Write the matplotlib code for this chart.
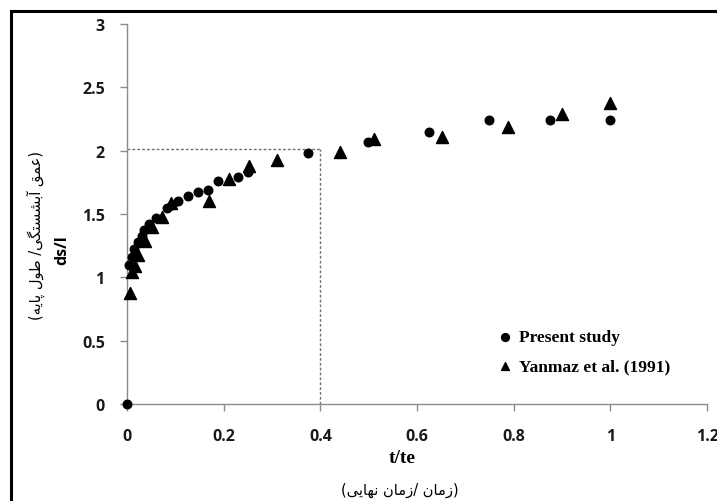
import matplotlib
matplotlib.use("Agg")
import matplotlib.pyplot as plt
from matplotlib.lines import Line2D

# Present study
present_t = [0.0, 0.005, 0.01, 0.015, 0.022, 0.03, 0.035, 0.045, 0.06, 0.082, 0.093,
             0.105, 0.126, 0.147, 0.168, 0.189, 0.23, 0.25, 0.375, 0.499, 0.625,
             0.749, 0.875, 1.0]
present_ds = [0.0, 1.10, 1.16, 1.22, 1.28, 1.33, 1.37, 1.42, 1.47, 1.55, 1.57,
              1.60, 1.64, 1.67, 1.69, 1.76, 1.79, 1.83, 1.98, 2.07, 2.15,
              2.24, 2.24, 2.24]

# Yanmaz et al. (1991)
yanmaz_t = [0.006, 0.01, 0.016, 0.023, 0.037, 0.052, 0.072, 0.09, 0.17, 0.21,
            0.252, 0.31, 0.44, 0.511, 0.651, 0.789, 0.9, 1.0]
yanmaz_ds = [0.88, 1.04, 1.09, 1.18, 1.29, 1.40, 1.48, 1.59, 1.60, 1.78,
             1.88, 1.93, 1.99, 2.09, 2.11, 2.19, 2.29, 2.38]

# reference point marked with dashed guides
ref_t = 0.4
ref_ds = 2.01

x_ticks = [0, 0.2, 0.4, 0.6, 0.8, 1, 1.2]
y_ticks = [0, 0.5, 1, 1.5, 2, 2.5, 3]

x_title = "t/te"
y_title = "ds/l"
x_title_fa = "(زمان /زمان نهایی)"
y_title_fa = "(عمق آبشستگی/ طول پایه)"

# --- minimal Persian shaping (contextual forms + right-to-left order) ---
FORMS = {  # isolated, final, initial, medial
    'ا': ('\uFE8D', '\uFE8E', None, None),
    'آ': ('\uFE81', '\uFE82', None, None),
    'ب': ('\uFE8F', '\uFE90', '\uFE91', '\uFE92'),
    'پ': ('\uFB56', '\uFB57', '\uFB58', '\uFB59'),
    'ت': ('\uFE95', '\uFE96', '\uFE97', '\uFE98'),
    'ز': ('\uFEAF', '\uFEB0', None, None),
    'س': ('\uFEB1', '\uFEB2', '\uFEB3', '\uFEB4'),
    'ش': ('\uFEB5', '\uFEB6', '\uFEB7', '\uFEB8'),
    'ط': ('\uFEC1', '\uFEC2', '\uFEC3', '\uFEC4'),
    'ع': ('\uFEC9', '\uFECA', '\uFECB', '\uFECC'),
    'ق': ('\uFED5', '\uFED6', '\uFED7', '\uFED8'),
    'گ': ('\uFB92', '\uFB93', '\uFB94', '\uFB95'),
    'ل': ('\uFEDD', '\uFEDE', '\uFEDF', '\uFEE0'),
    'م': ('\uFEE1', '\uFEE2', '\uFEE3', '\uFEE4'),
    'ن': ('\uFEE5', '\uFEE6', '\uFEE7', '\uFEE8'),
    'ه': ('\uFEE9', '\uFEEA', '\uFEEB', '\uFEEC'),
    'و': ('\uFEED', '\uFEEE', None, None),
    'ی': ('\uFBFC', '\uFBFD', '\uFBFE', '\uFBFF'),
}
MIRROR = {'(': ')', ')': '('}


def shape_fa(text):
    out = []
    n = len(text)
    for i, ch in enumerate(text):
        if ch not in FORMS:
            out.append(MIRROR.get(ch, ch))
            continue
        prev = text[i - 1] if i > 0 else ''
        nxt = text[i + 1] if i < n - 1 else ''
        joins_prev = prev in FORMS and FORMS[prev][2] is not None
        joins_next = nxt in FORMS and FORMS[ch][2] is not None
        iso, fin, ini, med = FORMS[ch]
        if joins_prev and joins_next:
            out.append(med)
        elif joins_prev:
            out.append(fin)
        elif joins_next:
            out.append(ini)
        else:
            out.append(iso)
    return ''.join(reversed(out))


fig = plt.figure(figsize=(7.17, 5.02), dpi=100)
ax = fig.add_axes([127 / 717, 97 / 502, 580 / 717, 380 / 502])

axis_gray = "#8c8c8c"

ax.plot([0, ref_t], [ref_ds, ref_ds], linestyle=(0, (2, 1.5)), color="#707070", lw=1.0, zorder=1)
ax.plot([ref_t, ref_t], [0, ref_ds], linestyle=(0, (2, 1.5)), color="#707070", lw=1.0, zorder=1)

ax.scatter(present_t, present_ds, marker='o', s=38, color='black', zorder=3,
           label="Present study", clip_on=False)
ax.scatter(yanmaz_t, yanmaz_ds, marker='^', s=75, color='black', zorder=3,
           label="Yanmaz et al. (1991)", clip_on=False)

ax.set_xlim(0, 1.2)
ax.set_ylim(0, 3)
ax.set_xticks(x_ticks)
ax.set_yticks(y_ticks)
ax.set_xticklabels([f"{v:g}" for v in x_ticks])
ax.set_yticklabels([f"{v:g}" for v in y_ticks])

for side in ("top", "right"):
    ax.spines[side].set_visible(False)
for side in ("left", "bottom"):
    ax.spines[side].set_color(axis_gray)
    ax.spines[side].set_linewidth(1.0)

ax.tick_params(axis='both', direction='out', length=5, width=1.0, color=axis_gray,
               labelsize=11.5)
ax.tick_params(axis='x', pad=12)
ax.tick_params(axis='y', pad=11)
for lab in ax.get_xticklabels() + ax.get_yticklabels():
    lab.set_fontfamily("Open Sans")
    lab.set_fontweight("bold")
    lab.set_color("#1a1a1a")

leg = ax.legend(loc='upper left', bbox_to_anchor=(0.625, 0.215), frameon=False,
                prop={'family': 'Liberation Serif', 'weight': 'bold', 'size': 12.5},
                handletextpad=0.3, labelspacing=0.75, borderaxespad=0,
                handlelength=1.0, scatterpoints=1)
for h in leg.legend_handles:
    h.set_sizes([32])

fig.text(402 / 717, 1 - 459 / 502, x_title, ha='center', va='center',
         family='Liberation Serif', weight='bold', fontsize=14)
fig.text(400 / 717, 1 - 490 / 502, shape_fa(x_title_fa), ha='center', va='center',
         family=['DejaVu Sans'], fontsize=10.5)

fig.text(62 / 717, 1 - 250 / 502, y_title, ha='center', va='center', rotation=90,
         family='Open Sans', weight='bold', fontsize=11.5)
fig.text(36 / 717, 1 - 235 / 502, shape_fa(y_title_fa), ha='center', va='center',
         rotation=90, family=['DejaVu Sans'], fontsize=10.5)

# frame lines around the figure
fig.add_artist(Line2D([11 / 717, 11 / 717], [0, 1 - 12 / 502], transform=fig.transFigure,
                      color='black', lw=2.2))
fig.add_artist(Line2D([11 / 717, 1], [1 - 12 / 502, 1 - 12 / 502], transform=fig.transFigure,
                      color='black', lw=2.2))

fig.savefig("out.png", dpi=100)
